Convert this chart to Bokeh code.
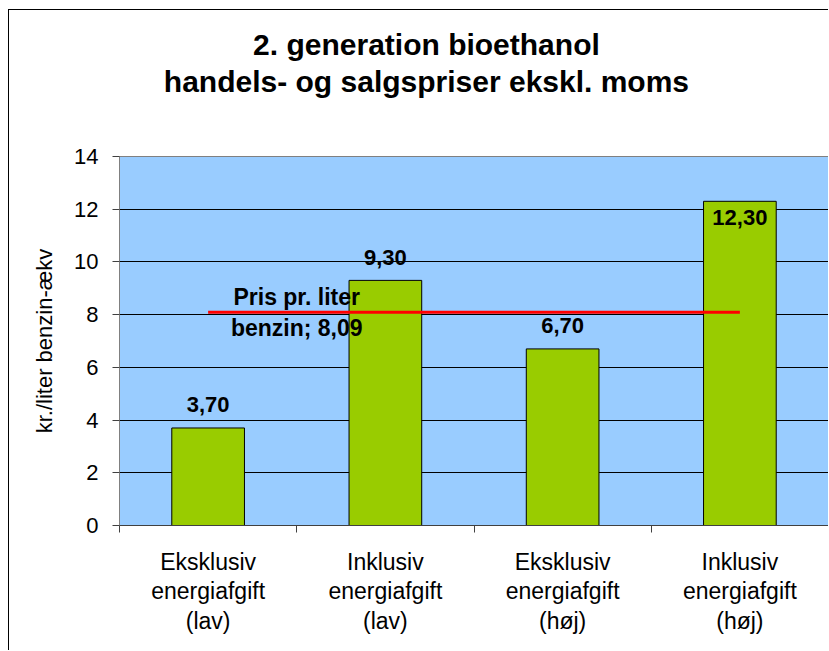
from bokeh.plotting import figure
from bokeh.models import FixedTicker, Range1d
from bokeh.layouts import column
from bokeh.core.properties import value
from bokeh.embed import file_html
from bokeh.resources import INLINE

# ---- data ----
categories = [
    "Eksklusiv\nenergiafgift\n(lav)",
    "Inklusiv\nenergiafgift\n(lav)",
    "Eksklusiv\nenergiafgift\n(høj)",
    "Inklusiv\nenergiafgift\n(høj)",
]
prices = [3.70, 9.30, 6.70, 12.30]
benzin_price = 8.09
y_ticks = [0, 2, 4, 6, 8, 10, 12, 14]
title_lines = ["2. generation bioethanol", "handels- og salgspriser ekskl. moms"]
y_label = "kr./liter benzin-ækv"
benzin_label = "Pris pr. liter\nbenzin; " + f"{benzin_price:.2f}".replace(".", ",")

FONT = "Liberation Sans"
W = 820          # canvas width (px)
TITLE_H = 127    # height of the title band (px)
MAIN_H = 514     # height of the chart part (px)

n = len(categories)
centers = [i + 0.5 for i in range(n)]
bounds = list(range(n + 1))
ymax = y_ticks[-1]

# ---------- title band (a figure in pixel coordinates) ----------
tf = figure(width=W, height=TITLE_H, x_range=Range1d(0, W), y_range=Range1d(0, TITLE_H),
            x_axis_location=None, y_axis_location=None,
            output_backend="svg", toolbar_location=None,
            min_border_left=0, min_border_right=0, min_border_top=0, min_border_bottom=0)
tf.title = None
tf.grid.visible = False
tf.outline_line_color = None
tf.background_fill_color = "white"
tf.border_fill_color = "white"
tf.styles = {"border-left": "1px solid black", "border-top": "1px solid black"}
title_cx = 355
tf.text(x=[title_cx, title_cx], y=[TITLE_H - 34, TITLE_H - 71], text=title_lines,
        text_align="center", text_baseline="alphabetic",
        text_font=value(FONT), text_font_size="30px", text_font_style="bold",
        text_color="black")

# ---------- chart ----------
p = figure(
    width=W, height=MAIN_H,
    x_range=Range1d(0, n), y_range=Range1d(0, ymax),
    output_backend="svg", toolbar_location=None,
    min_border_left=110, min_border_right=1,
    min_border_top=20, min_border_bottom=125,
)
p.title = None
p.styles = {"border-left": "1px solid black"}
p.background_fill_color = "#99CCFF"
p.border_fill_color = "white"
p.outline_line_color = "#808080"
p.outline_line_width = 1

# grid
p.xgrid.visible = False
p.ygrid.grid_line_color = "black"
p.ygrid.grid_line_width = 1

# bars
p.vbar(x=centers, top=prices, width=0.41, bottom=0,
       fill_color="#99CC00", line_color="black", line_width=1)

# benzin price line
p.line(x=[centers[0], centers[-1]], y=[benzin_price, benzin_price],
       line_color="#FF0000", line_width=3)

# bar value labels (a label too close to the top goes inside the bar)
fmt = [f"{v:.2f}".replace(".", ",") for v in prices]
limit = ymax - 2
out_x = [c for c, v in zip(centers, prices) if v <= limit]
out_y = [v for v in prices if v <= limit]
out_t = [t for t, v in zip(fmt, prices) if v <= limit]
in_x = [c for c, v in zip(centers, prices) if v > limit]
in_y = [v for v in prices if v > limit]
in_t = [t for t, v in zip(fmt, prices) if v > limit]
p.text(x=out_x, y=out_y, text=out_t, text_align="center", text_baseline="alphabetic",
       y_offset=-23, text_font=value(FONT), text_font_size="22px",
       text_font_style="bold", text_color="black")
p.text(x=in_x, y=in_y, text=in_t, text_align="center", text_baseline="alphabetic",
       y_offset=16, text_font=value(FONT), text_font_size="22px",
       text_font_style="bold", text_color="black")

# benzin label
p.text(x=[centers[0] + 0.5], y=[benzin_price], text=[benzin_label],
       text_align="center", text_baseline="middle", text_line_height=1.2,
       text_font=value(FONT), text_font_size="23px", text_font_style="bold",
       text_color="black")

# x axis
xa = p.xaxis[0]
xa.ticker = FixedTicker(ticks=centers, minor_ticks=bounds)
xa.major_label_overrides = {c: lab for c, lab in zip(centers, categories)}
xa.major_tick_in = 0
xa.major_tick_out = 0
xa.minor_tick_in = 0
xa.minor_tick_out = 7
xa.minor_tick_line_color = "#404040"
xa.axis_line_color = "#404040"
xa.major_label_text_font = FONT
xa.major_label_text_font_size = "23px"
xa.major_label_text_color = "black"
xa.major_label_text_line_height = 1.15
xa.major_label_standoff = 16

# y axis
ya = p.yaxis[0]
ya.ticker = FixedTicker(ticks=y_ticks)
ya.minor_tick_line_color = None
ya.major_tick_in = 0
ya.major_tick_out = 7
ya.major_tick_line_color = "#404040"
ya.axis_line_color = "#808080"
ya.major_label_text_font = FONT
ya.major_label_text_font_size = "22px"
ya.major_label_text_color = "black"
ya.major_label_standoff = 14
ya.axis_label = y_label
ya.axis_label_text_font = FONT
ya.axis_label_text_font_size = "22px"
ya.axis_label_text_font_style = "normal"
ya.axis_label_text_color = "black"
ya.axis_label_standoff = 14

root = column(tf, p, spacing=0, styles={"padding-left": "8px", "padding-top": "9px"})

open("out.html", "w").write(file_html(root, INLINE))
